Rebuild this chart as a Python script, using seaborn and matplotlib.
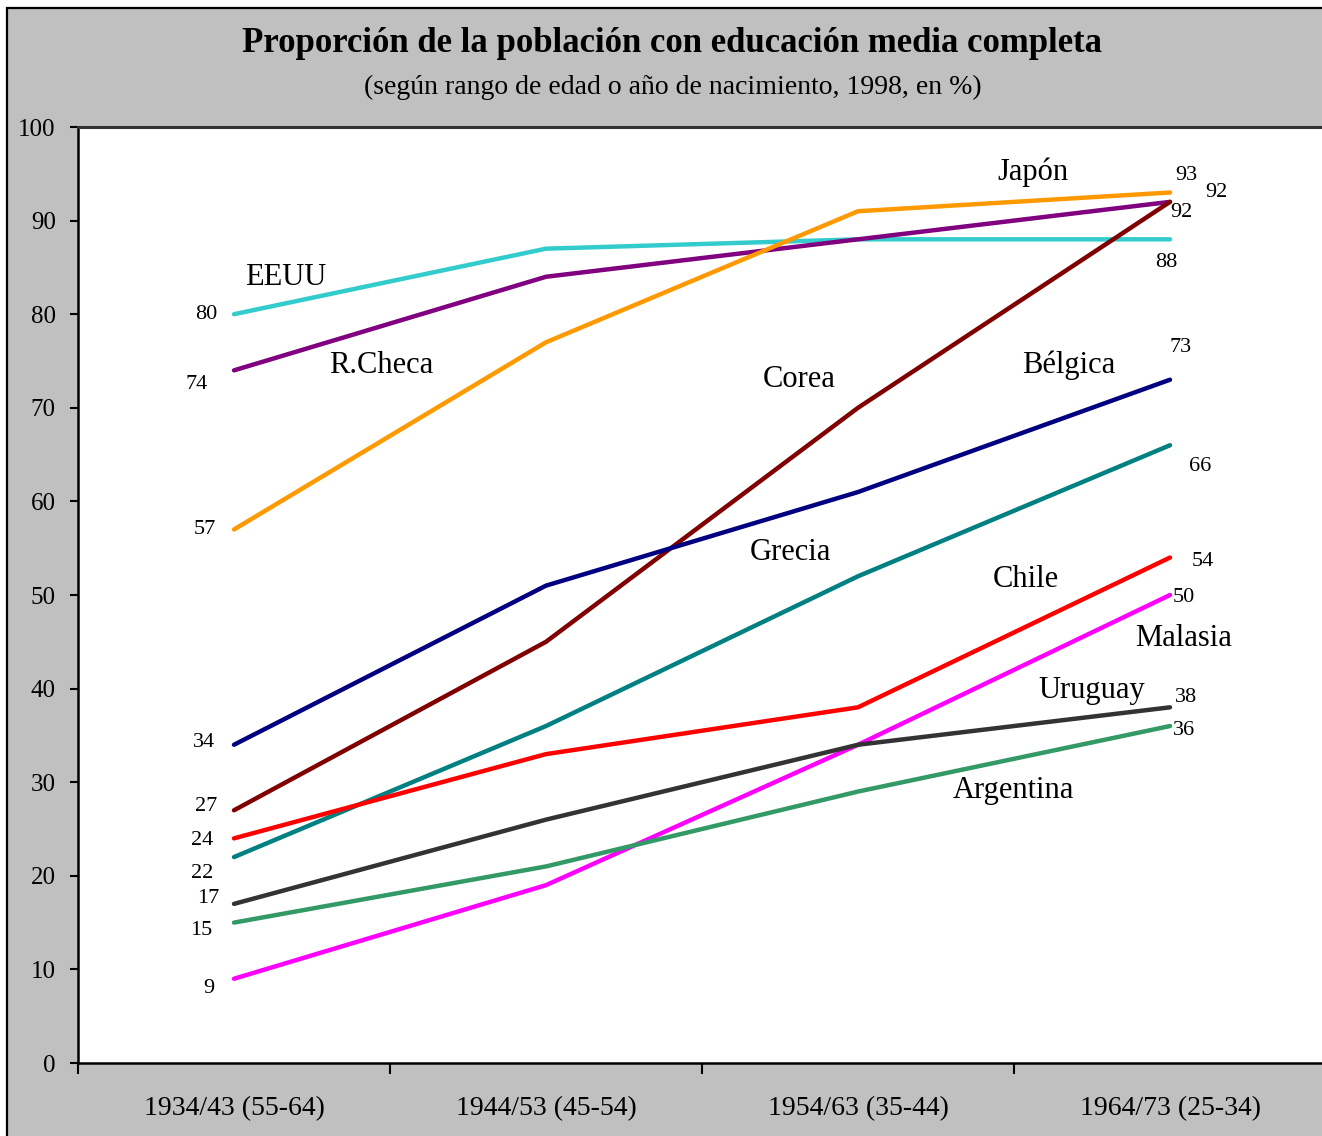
import matplotlib
matplotlib.use("Agg")
import matplotlib.pyplot as plt
from matplotlib.patches import Rectangle
import pandas as pd
import seaborn as sns

# Cohorts (birth years and age range)
cohortes = ["1934/43 (55-64)", "1944/53 (45-54)", "1954/63 (35-44)", "1964/73 (25-34)"]

# Share of population with completed secondary education, by cohort (%)
eeuu = [80, 87, 88, 88]
r_checa = [74, 84, 88, 92]
japon = [57, 77, 91, 93]
corea = [27, 45, 70, 92]
belgica = [34, 51, 61, 73]
grecia = [22, 36, 52, 66]
chile = [24, 33, 38, 54]
malasia = [9, 19, 34, 50]
uruguay = [17, 26, 34, 38]
argentina = [15, 21, 29, 36]

paises = ["EEUU", "R.Checa", "Japón", "Corea", "Bélgica", "Grecia",
          "Chile", "Malasia", "Uruguay", "Argentina"]
series = [eeuu, r_checa, japon, corea, belgica, grecia, chile, malasia, uruguay, argentina]

colores = {
    "EEUU": "#33CCCC", "R.Checa": "#800080", "Japón": "#FF9900", "Corea": "#800000",
    "Bélgica": "#000080", "Grecia": "#008080", "Chile": "#FF0000", "Malasia": "#FF00FF",
    "Uruguay": "#333333", "Argentina": "#339966",
}

# Offsets (pixels) of the value labels at the first and last cohort
off_ini = {
    "EEUU": (-28, 0), "R.Checa": (-37, -14), "Japón": (-29, 0), "Corea": (-28, 4),
    "Bélgica": (-30, 2), "Grecia": (-32, -16), "Chile": (-32, -2), "Malasia": (-25, -10),
    "Uruguay": (-26, 5), "Argentina": (-33, -8),
}
off_fin = {
    "EEUU": (-4, -23), "R.Checa": (46, 9), "Japón": (16, 17), "Corea": (11, -11),
    "Bélgica": (11, 32), "Grecia": (30, -21), "Chile": (33, -4), "Malasia": (14, -3),
    "Uruguay": (16, 10), "Argentina": (14, -4),
}
# Anchor of each country name, in axis data coordinates
pos_nombre = {
    "Japón": (2.56, 95.2), "EEUU": (0.167, 83.9), "R.Checa": (0.471, 74.5),
    "Corea": (1.811, 73.0), "Bélgica": (2.676, 74.5), "Grecia": (1.782, 54.5),
    "Chile": (2.538, 51.7), "Malasia": (3.045, 45.4), "Uruguay": (2.75, 39.85),
    "Argentina": (2.497, 29.06),
}

filas = []
for pais, vals in zip(paises, series):
    for i, v in enumerate(vals):
        filas.append({"pais": pais, "pos": i, "valor": v})
df = pd.DataFrame(filas)

sns.set_style("white")
plt.rcParams["font.family"] = ["Liberation Serif", "DejaVu Serif"]
plt.rcParams["text.color"] = "black"

W, H = 1322, 1136
fig = plt.figure(figsize=(W / 100, H / 100), dpi=100)
fig.patch.set_facecolor("white")
fondo = Rectangle((7 / W, -0.05), 1.05, 1 - 8 / H + 0.05, transform=fig.transFigure,
                  facecolor="#C0C0C0", edgecolor="black", linewidth=1.6, zorder=-1)
fig.patches.append(fondo)

ax = fig.add_axes([78 / W, 1 - 1063 / H, (1326 - 78) / W, (1063 - 127) / H])
ax.set_zorder(1)
ax.set_facecolor("white")

sns.lineplot(data=df, x="pos", y="valor", hue="pais", hue_order=paises,
             palette=colores, linewidth=3.2, legend=False, sort=False,
             estimator=None, ax=ax)

ax.set_xlim(-0.5, 3.5)
ax.set_ylim(0, 100)
ax.set_xlabel("")
ax.set_ylabel("")

ax.set_yticks(range(0, 101, 10))
ax.tick_params(axis="y", which="major", length=6, width=1.5, direction="out",
               pad=10, labelsize=18, colors="black", left=True)
ax.set_xticks([-0.5, 0.5, 1.5, 2.5, 3.5])
ax.set_xticklabels([])
ax.tick_params(axis="x", which="major", length=8, width=1.5, direction="out",
               bottom=True, colors="black")
ax.set_xticks(range(len(cohortes)), minor=True)
ax.set_xticklabels(cohortes, minor=True)
ax.tick_params(axis="x", which="minor", length=0, pad=24, labelsize=20,
               labelcolor="black")

for lado in ["left", "bottom"]:
    ax.spines[lado].set_color("black")
    ax.spines[lado].set_linewidth(1.8)
ax.spines["top"].set_color("#333333")
ax.spines["top"].set_linewidth(2.2)
ax.spines["right"].set_visible(False)

for pais, vals in zip(paises, series):
    ax.annotate(str(vals[0]), xy=(0, vals[0]), xytext=off_ini[pais],
                textcoords="offset pixels", ha="center", va="center", fontsize=16)
    ax.annotate(str(vals[-1]), xy=(3, vals[-1]), xytext=off_fin[pais],
                textcoords="offset pixels", ha="center", va="center", fontsize=16)
    x, y = pos_nombre[pais]
    ax.text(x, y, pais, ha="center", va="center", fontsize=22)

fig.text(672 / W, 1 - 43 / H, "Proporción de la población con educación media completa",
         ha="center", va="center", fontsize=25, fontweight="bold")
fig.text(673 / W, 1 - 87 / H, "(según rango de edad o año de nacimiento, 1998, en %)",
         ha="center", va="center", fontsize=20)

fig.savefig("out.png", dpi=100)
